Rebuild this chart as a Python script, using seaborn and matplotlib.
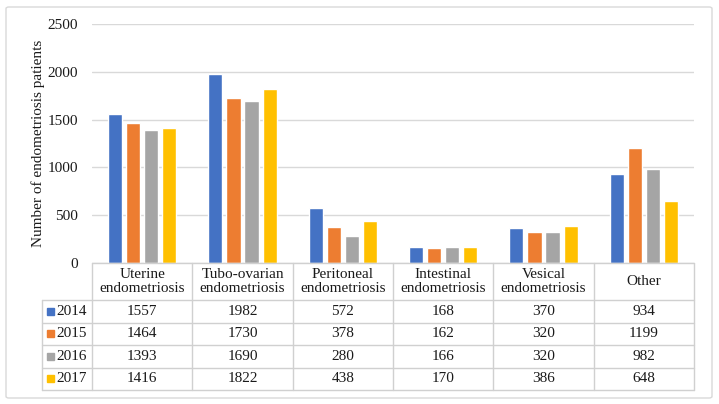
import pandas as pd
import matplotlib.pyplot as plt
import seaborn as sns
from matplotlib.patches import Rectangle, FancyBboxPatch

# Data
categories = ['Uterine\nendometriosis', 'Tubo-ovarian\nendometriosis', 'Peritoneal\nendometriosis',
              'Intestinal\nendometriosis', 'Vesical\nendometriosis', 'Other']
years = ['2014', '2015', '2016', '2017']
v2014 = [1557, 1982, 572, 168, 370, 934]
v2015 = [1464, 1730, 378, 162, 320, 1199]
v2016 = [1393, 1690, 280, 166, 320, 982]
v2017 = [1416, 1822, 438, 170, 386, 648]
colors = ['#4472C4', '#ED7D31', '#A5A5A5', '#FFC000']

series = [v2014, v2015, v2016, v2017]
df = pd.DataFrame([
    {'category': c, 'year': y, 'count': vals[i]}
    for y, vals in zip(years, series)
    for i, c in enumerate(categories)
])

sns.set_style('white')
plt.rcParams['font.family'] = ['Liberation Serif', 'DejaVu Serif']

W, H = 719, 404
fig = plt.figure(figsize=(W / 100, H / 100), dpi=100)

def px_box(x0, y0, x1, y1):
    return [x0 / W, 1 - y1 / H, (x1 - x0) / W, (y1 - y0) / H]

# Outer chart border
fig.patches.append(FancyBboxPatch((6 / W, 6 / H), 706 / W, 391 / H,
                                  boxstyle='round,pad=0,rounding_size=0.004',
                                  transform=fig.transFigure, fill=False,
                                  edgecolor='#d9d9d9', linewidth=1))

# Bar chart
ax = fig.add_axes(px_box(92, 24, 694, 263))
sns.barplot(data=df, x='category', y='count', hue='year', palette=colors,
            width=0.72, gap=0.22, legend=False, ax=ax, saturation=1)
ax.set_xlim(-0.5, 5.5)
ax.set_ylim(0, 2500)
ax.set_yticks(range(0, 2501, 500))
ax.tick_params(axis='y', length=0, pad=10, labelsize=11, labelcolor='#1a1a1a')
ax.set_xticks([])
ax.set_xlabel('')
ax.set_ylabel('Number of endometriosis patients', fontsize=11, labelpad=2,
              color='#1a1a1a')
ax.grid(axis='y', color='#d9d9d9', linewidth=1)
ax.set_axisbelow(True)
for s in ax.spines.values():
    s.set_visible(False)

# Data table below the plot
tx = fig.add_axes(px_box(42, 263, 694, 390))
tx.set_xlim(-1, 5.5)
tx.set_ylim(127, 0)
tx.axis('off')
line_c = '#d0d0d0'
row_y = [37, 59.5, 82, 104.5, 127]
tx.plot([-0.5, 5.5], [0, 0], color=line_c, lw=1, clip_on=False)
for y in row_y:
    tx.plot([-1, 5.5], [y, y], color=line_c, lw=1, clip_on=False)
tx.plot([-1, -1], [37, 127], color=line_c, lw=1, clip_on=False)
for i in range(7):
    tx.plot([i - 0.5, i - 0.5], [0, 127], color=line_c, lw=1, clip_on=False)

for i, c in enumerate(categories):
    tx.text(i, 18.5, c, ha='center', va='center', fontsize=11,
            linespacing=1.0, color='#1a1a1a')
for r, (y, vals, col) in enumerate(zip(years, series, colors)):
    yc = (row_y[r] + row_y[r + 1]) / 2
    tx.add_patch(Rectangle((-0.95, yc - 3.5), 0.07, 7, color=col, clip_on=False))
    tx.text(-0.86, yc, y, ha='left', va='center', fontsize=11, color='#1a1a1a')
    for i, v in enumerate(vals):
        tx.text(i, yc, str(v), ha='center', va='center', fontsize=11, color='#1a1a1a')

fig.savefig('out.png', dpi=100)
